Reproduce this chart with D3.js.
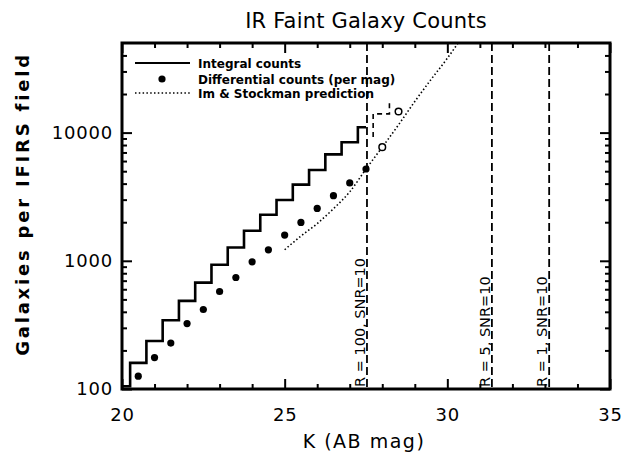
<!DOCTYPE html>
<html>
<head>
<meta charset="utf-8">
<script src="https://cdn.jsdelivr.net/npm/d3@7"></script>
<style>
  html, body { margin: 0; padding: 0; background: #fff; }
  svg { display: block; }
  text { font-family: "DejaVu Sans", sans-serif; fill: #000; }
</style>
</head>
<body>
<div id="chart"></div>
<script>
// ---- data ----
const integralEdges  = [20.0, 20.25, 20.75, 21.25, 21.75, 22.25, 22.75, 23.25, 23.75, 24.25, 24.75, 25.25, 25.75, 26.25, 26.75, 27.25];
const integralCounts = [105, 160, 237, 344, 487, 676, 931, 1270, 1714, 2285, 2980, 3926, 5115, 6760, 8400, 11000];
const integralEnd = 27.5;

const diffMag    = [20.5, 21.0, 21.5, 22.0, 22.5, 23.0, 23.5, 24.0, 24.5, 25.0, 25.5, 26.0, 26.5, 27.0, 27.5];
const diffCounts = [126, 176, 228, 324, 417, 576, 741, 982, 1218, 1588, 1991, 2562, 3222, 4049, 5200];

const extMag    = [28.0, 28.5];
const extCounts = [7700, 14600];

const extStepMag    = [27.72, 27.72, 28.22, 28.22];
const extStepCounts = [9250, 14000, 14000, 17800];

const predMag    = [25.0, 25.5, 26.0, 26.5, 27.0, 27.5, 28.0, 28.5, 29.0, 29.5, 30.0, 30.33];
const predCounts = [1220, 1560, 1950, 2550, 3450, 5200, 7700, 11500, 17500, 26000, 38000, 50000];

const limitMag    = [27.53, 31.37, 33.13];
const limitLabels = ["R = 100, SNR=10", "R = 5, SNR=10", "R = 1, SNR=10"];

const xMajorTicks = [20, 25, 30, 35];
const xMinorTicks = [21, 22, 23, 24, 26, 27, 28, 29, 31, 32, 33, 34];
const yMajorTicks = [100, 1000, 10000];
const yTickLabels = ["100", "1000", "10000"];
const yMinorTicks = [200, 300, 400, 500, 600, 700, 800, 900, 2000, 3000, 4000, 5000, 6000, 7000, 8000, 9000, 20000, 30000, 40000];

const legendLabels = ["Integral counts", "Differential counts (per mag)", "Im & Stockman prediction"];
const titleText = "IR Faint Galaxy Counts";
const xTitle = "K (AB mag)";
const yTitle = "Galaxies per IFIRS field";

// ---- layout ----
const W = 624, H = 460;
const L = 122, R = 610, T = 43, B = 389;

const svg = d3.select("#chart").append("svg").attr("width", W).attr("height", H);

const x = d3.scaleLinear().domain([20, 35]).range([L, R]);
const y = d3.scaleLog().domain([100, 50000]).range([B, T]);

svg.append("defs").append("clipPath").attr("id", "clip")
  .append("rect").attr("x", L).attr("y", T).attr("width", R - L).attr("height", B - T);

// title
svg.append("text").attr("x", 366).attr("y", 28).attr("text-anchor", "middle")
  .style("font-size", "21px").style("letter-spacing", "0.2px").text(titleText);

// axes ticks
function styleAxis(g) {
  g.select(".domain").remove();
  g.selectAll(".tick line").attr("stroke", "#000").attr("stroke-width", 2);
  g.selectAll(".tick text").style("font-family", "DejaVu Sans, sans-serif").style("font-size", "18px")
    .style("letter-spacing", "0.8px").attr("fill", "#000");
}
// bottom
svg.append("g").attr("transform", `translate(0,${B})`)
  .call(d3.axisBottom(x).tickValues(xMajorTicks).tickSizeInner(-10).tickSizeOuter(0).tickPadding(19).tickFormat(d3.format("d")))
  .call(styleAxis);
svg.append("g").attr("transform", `translate(0,${B})`)
  .call(d3.axisBottom(x).tickValues(xMinorTicks).tickSizeInner(-5).tickSizeOuter(0).tickFormat(""))
  .call(styleAxis);
// top
svg.append("g").attr("transform", `translate(0,${T})`)
  .call(d3.axisTop(x).tickValues(xMajorTicks).tickSizeInner(-10).tickSizeOuter(0).tickFormat(""))
  .call(styleAxis);
svg.append("g").attr("transform", `translate(0,${T})`)
  .call(d3.axisTop(x).tickValues(xMinorTicks).tickSizeInner(-5).tickSizeOuter(0).tickFormat(""))
  .call(styleAxis);
// left
svg.append("g").attr("transform", `translate(${L},0)`)
  .call(d3.axisLeft(y).tickValues(yMajorTicks).tickSizeInner(-10).tickSizeOuter(0).tickPadding(9)
    .tickFormat((d, i) => yTickLabels[i]))
  .call(styleAxis);
svg.append("g").attr("transform", `translate(${L},0)`)
  .call(d3.axisLeft(y).tickValues(yMinorTicks).tickSizeInner(-5).tickSizeOuter(0).tickFormat(""))
  .call(styleAxis);
// right
svg.append("g").attr("transform", `translate(${R},0)`)
  .call(d3.axisRight(y).tickValues(yMajorTicks).tickSizeInner(-10).tickSizeOuter(0).tickFormat(""))
  .call(styleAxis);
svg.append("g").attr("transform", `translate(${R},0)`)
  .call(d3.axisRight(y).tickValues(yMinorTicks).tickSizeInner(-5).tickSizeOuter(0).tickFormat(""))
  .call(styleAxis);

// axis titles
svg.append("text").attr("x", 364).attr("y", 448).attr("text-anchor", "middle")
  .style("font-size", "19px").style("letter-spacing", "1.5px").text(xTitle);
svg.append("text").attr("transform", "translate(29,204) rotate(-90)").attr("text-anchor", "middle")
  .style("font-size", "18px").style("font-weight", "bold").style("letter-spacing", "2.8px").text(yTitle);

const plot = svg.append("g").attr("clip-path", "url(#clip)");

// integral step
const stepPts = integralEdges.map((e, i) => [e, integralCounts[i]]);
stepPts.push([integralEnd, integralCounts[integralCounts.length - 1]]);
plot.append("path")
  .attr("d", d3.line().x(d => x(d[0])).y(d => y(d[1])).curve(d3.curveStepAfter)(stepPts))
  .attr("fill", "none").attr("stroke", "#000").attr("stroke-width", 2.6);

// dashed extrapolated step
plot.append("path")
  .attr("d", d3.line().x(d => x(d[0])).y(d => y(d[1]))(extStepMag.map((m, i) => [m, extStepCounts[i]])))
  .attr("fill", "none").attr("stroke", "#000").attr("stroke-width", 1.6).attr("stroke-dasharray", "5 4");

// prediction dotted
plot.append("path")
  .attr("d", d3.line().x(d => x(d[0])).y(d => y(d[1])).curve(d3.curveMonotoneX)(predMag.map((m, i) => [m, predCounts[i]])))
  .attr("fill", "none").attr("stroke", "#000").attr("stroke-width", 1.6).attr("stroke-dasharray", "1.5 2.3");

// differential dots
plot.selectAll("circle.diff").data(diffMag.map((m, i) => [m, diffCounts[i]])).enter()
  .append("circle").attr("class", "diff")
  .attr("cx", d => x(d[0])).attr("cy", d => y(d[1])).attr("r", 3.6).attr("fill", "#000");

// open circles
plot.selectAll("circle.ext").data(extMag.map((m, i) => [m, extCounts[i]])).enter()
  .append("circle").attr("class", "ext")
  .attr("cx", d => x(d[0])).attr("cy", d => y(d[1])).attr("r", 3.3)
  .attr("fill", "#fff").attr("stroke", "#000").attr("stroke-width", 1.5);

// legend
const lg = svg.append("g");
const legY = [63, 79, 93];
lg.append("line").attr("x1", 135).attr("x2", 190).attr("y1", legY[0]).attr("y2", legY[0])
  .attr("stroke", "#000").attr("stroke-width", 2.2);
lg.append("circle").attr("cx", 162).attr("cy", legY[1]).attr("r", 3.6).attr("fill", "#000");
lg.append("line").attr("x1", 135).attr("x2", 190).attr("y1", legY[2]).attr("y2", legY[2])
  .attr("stroke", "#000").attr("stroke-width", 1.6).attr("stroke-dasharray", "1.5 2.3");
lg.selectAll("text").data(legendLabels).enter().append("text")
  .attr("x", 198).attr("y", (d, i) => legY[i] + 4.5)
  .style("font-size", "12px").style("font-weight", "bold").text(d => d);

// limit lines
limitMag.forEach((m, i) => {
  svg.append("line").attr("x1", x(m)).attr("x2", x(m)).attr("y1", T).attr("y2", B)
    .attr("stroke", "#000").attr("stroke-width", 1.8).attr("stroke-dasharray", "8 4");
  svg.append("text").attr("transform", `translate(${x(m) - 2},387) rotate(-90)`)
    .style("font-size", "14.5px").text(limitLabels[i]);
});

// frame
svg.append("rect").attr("x", L).attr("y", T).attr("width", R - L).attr("height", B - T)
  .attr("fill", "none").attr("stroke", "#000").attr("stroke-width", 3);
</script>
</body>
</html>
